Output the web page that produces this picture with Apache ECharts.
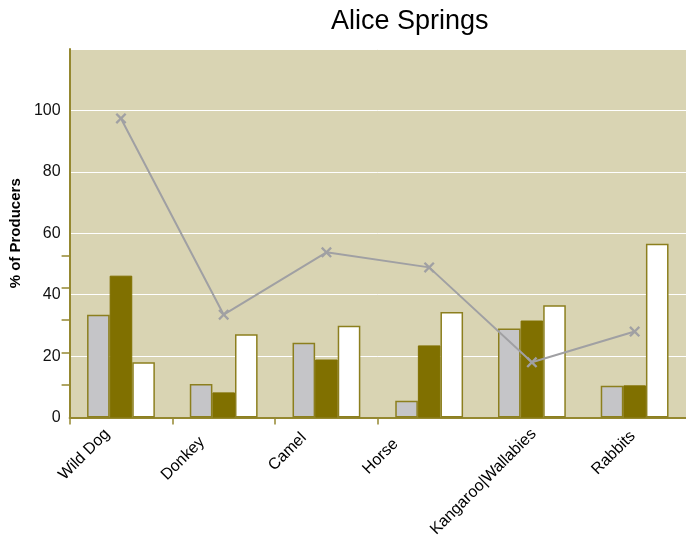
<!DOCTYPE html>
<html>
<head>
<meta charset="utf-8">
<script src="https://cdn.jsdelivr.net/npm/echarts@6/dist/echarts.min.js"></script>
<style>
  html, body { margin: 0; padding: 0; background: #ffffff; }
  #chart { width: 686px; height: 540px; }
</style>
</head>
<body>
<div id="chart"></div>
<script>
// Pest animals reported by producers, Alice Springs
const categories = ['Wild Dog', 'Donkey', 'Camel', 'Horse', 'Kangaroo|Wallabies', 'Rabbits'];
const seriesGrey  = [33.5, 10.9, 24.4, 5.5, 29.0, 10.4];
const seriesOlive = [46.2, 8.2, 18.9, 23.5, 31.6, 10.5];
const seriesWhite = [18.0, 27.1, 29.9, 34.4, 36.6, 56.6];
const seriesLine  = [97.4, 33.5, 53.8, 48.9, 18.0, 28.0];
const yTickLabels = [0, 20, 40, 60, 80, 100];
const yMinorTicks = [10.6, 21.1, 32.0, 42.4, 52.8];
const xBoundaryTicks = [0, 1, 2, 3];

// Placement tweaks for the slanted category names:
// right padding slides a name along its baseline, the vertical anchor and
// line height move it across the baseline.
const labelPadRight = [14, 25, 23, 35, 3, 7];
const labelVAlign = ['bottom', 'bottom', 'bottom', 'bottom', 'top', 'top'];
const labelLineHeight = [11, 11, 18, 25, 11, 9];

const olive = '#807000';
const edge = '#8c7f1e';
const axisColor = '#958830';
const font = 'Liberation Sans, Arial, sans-serif';

const chart = echarts.init(document.getElementById('chart'), null, { renderer: 'canvas' });

const crossPath = 'path://M1.5,0 L5,3.5 L8.5,0 L10,1.5 L6.5,5 L10,8.5 L8.5,10 L5,6.5 L1.5,10 L0,8.5 L3.5,5 L0,1.5 Z';

const axisData = categories.map(function (name, i) {
  return {
    value: name,
    textStyle: {
      padding: [0, labelPadRight[i], 0, 0],
      verticalAlign: labelVAlign[i],
      lineHeight: labelLineHeight[i]
    }
  };
});

chart.setOption({
  animation: false,
  backgroundColor: '#ffffff',
  title: {
    text: 'Alice Springs',
    left: 326,
    top: 3,
    textStyle: { fontFamily: font, fontSize: 27, fontWeight: 'normal', color: '#000000' }
  },
  grid: {
    left: 69, right: 0, top: 49, bottom: 122,
    show: true, backgroundColor: '#d9d4b3', borderWidth: 0
  },
  xAxis: [
    {
      type: 'category',
      data: axisData,
      boundaryGap: true,
      axisLine: { show: true, lineStyle: { color: axisColor, width: 2 } },
      axisTick: { show: false },
      axisLabel: {
        interval: 0,
        rotate: 45,
        margin: 8,
        fontFamily: font,
        fontSize: 16,
        color: '#000000'
      },
      splitLine: { show: false }
    },
    {
      type: 'value',
      position: 'bottom',
      min: 0, max: 6,
      axisLine: { show: false },
      axisLabel: { show: false },
      splitLine: { show: false },
      axisTick: {
        show: true, length: 7,
        customValues: xBoundaryTicks,
        lineStyle: { color: axisColor, width: 1.5 }
      }
    }
  ],
  yAxis: [
    {
      type: 'value',
      min: 0, max: 120, interval: 20,
      name: '% of Producers',
      nameLocation: 'middle',
      nameGap: 46,
      nameTextStyle: { fontFamily: font, fontSize: 15, fontWeight: 'bold', color: '#000000' },
      axisLine: { show: true, lineStyle: { color: axisColor, width: 2 } },
      axisTick: { show: false },
      axisLabel: {
        margin: 9,
        fontFamily: font,
        fontSize: 16,
        color: '#111111',
        customValues: yTickLabels
      },
      splitLine: { show: true, lineStyle: { color: '#ffffff', width: 1 } }
    },
    {
      type: 'value',
      position: 'left',
      min: 0, max: 120,
      axisLine: { show: false },
      axisLabel: { show: false },
      splitLine: { show: false },
      axisTick: {
        show: true, inside: false, length: 8,
        customValues: yMinorTicks,
        lineStyle: { color: axisColor, width: 1.5 }
      }
    }
  ],
  series: [
    {
      name: 'Group A', type: 'bar', data: seriesGrey,
      barWidth: '22%', barGap: '0%',
      itemStyle: { color: '#c5c5c8', borderColor: edge, borderWidth: 1.5 }
    },
    {
      name: 'Group B', type: 'bar', data: seriesOlive,
      barWidth: '22%', barGap: '0%',
      itemStyle: { color: olive, borderColor: olive, borderWidth: 1 }
    },
    {
      name: 'Group C', type: 'bar', data: seriesWhite,
      barWidth: '22%', barGap: '0%',
      itemStyle: { color: '#ffffff', borderColor: edge, borderWidth: 1.5 }
    },
    {
      name: 'All producers', type: 'line', data: seriesLine,
      z: 5,
      symbol: crossPath, symbolSize: 11,
      lineStyle: { color: '#a0a0a3', width: 2 },
      itemStyle: { color: '#a0a0a3' }
    }
  ]
});
</script>
</body>
</html>
